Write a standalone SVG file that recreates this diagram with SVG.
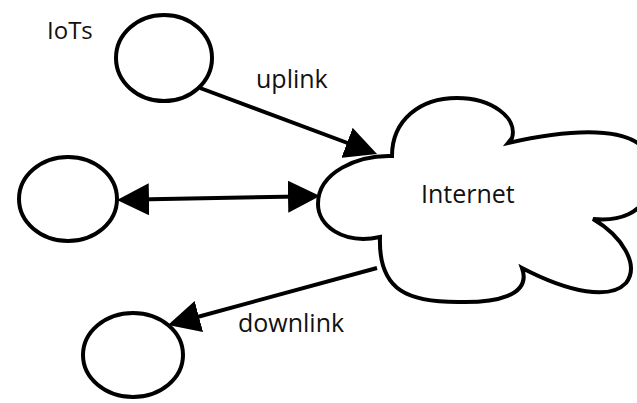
<svg xmlns="http://www.w3.org/2000/svg" width="637" height="403" viewBox="0 0 637 403">
  <style>
    .node { fill: #ffffff; stroke: #000000; stroke-width: 4; }
    .link { fill: none; stroke: #000000; stroke-width: 4; }
    .label { font-family: "Open Sans", "Noto Sans", "DejaVu Sans", sans-serif; font-size: 25px; fill: #111111; }
    .title { font-size: 24px; }
  </style>
  <defs>
    <marker id="arrow" viewBox="0 0 32 32" markerWidth="32" markerHeight="32" markerUnits="userSpaceOnUse" refX="12" refY="16" orient="auto-start-reverse">
      <path d="M0,0 L32,16 L0,32 z" fill="#000000"/>
    </marker>
  </defs>
  <rect width="637" height="403" fill="#ffffff"/>

  <g id="iot-device">
    <ellipse class="node" cx="164" cy="58" rx="48" ry="43"/>
    <text class="label title" x="47" y="39">IoTs</text>
  </g>

  <g id="device-middle">
    <ellipse class="node" cx="68" cy="199" rx="49" ry="42"/>
  </g>

  <g id="device-bottom">
    <ellipse class="node" cx="133" cy="355" rx="50" ry="42"/>
  </g>

  <g id="internet">
    <path class="node" d="M392 156
      C392 120 420 98 457 98
      C492 98 518 118 512 138
      L508 143
      C560 131 625 124 645 150
      C662 175 652 225 593 219
      C622 236 640 265 626 283
      C610 300 570 293 522 268
      C532 296 495 303 458 302
      C410 302 378 292 380 237
      C342 245 318 225 318 204
      C318 172 358 155 392 156 Z"/>
    <text class="label" x="421" y="203">Internet</text>
  </g>

  <g id="connectors">
    <line class="link" x1="200" y1="88" x2="358.3" y2="147" marker-end="url(#arrow)"/>
    <text class="label" x="256" y="88">uplink</text>
    <line class="link" x1="137" y1="199.6" x2="300" y2="196.4" marker-start="url(#arrow)" marker-end="url(#arrow)"/>
    <line class="link" x1="377" y1="268" x2="187.3" y2="319.7" marker-end="url(#arrow)"/>
    <text class="label" x="238" y="332">downlink</text>
  </g>
</svg>
